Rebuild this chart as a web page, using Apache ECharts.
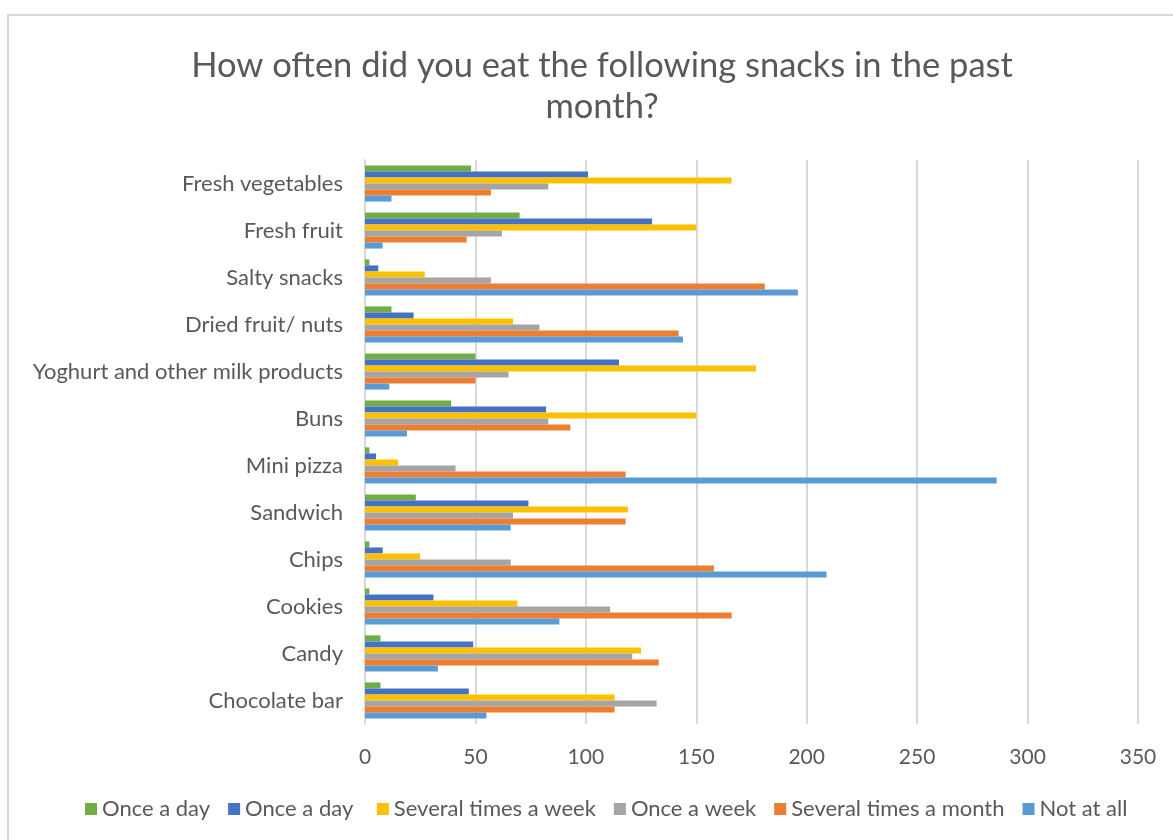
<!DOCTYPE html>
<html>
<head>
<meta charset="utf-8">
<title>Snack frequency</title>
<script src="https://cdn.jsdelivr.net/npm/echarts@6/dist/echarts.min.js"></script>
<style>
  html, body { margin: 0; padding: 0; background: #ffffff; }
  #chart { width: 1173px; height: 840px; }
</style>
</head>
<body>
<div id="chart"></div>
<script>
// Snack categories, listed top to bottom
const categories = [
  'Fresh vegetables', 'Fresh fruit', 'Salty snacks', 'Dried fruit/ nuts',
  'Yoghurt and other milk products', 'Buns', 'Mini pizza', 'Sandwich',
  'Chips', 'Cookies', 'Candy', 'Chocolate bar'
];

// Series names in legend order
const seriesNames = [
  'Once a day', 'Once a day ', 'Several times a week',
  'Once a week', 'Several times a month', 'Not at all'
];
const seriesColors = ['#70AD47', '#4472C4', '#FFC000', '#A5A5A5', '#ED7D31', '#5B9BD5'];

// Responses per category (same order as categories)
const onceADayA          = [48, 70, 2, 12, 50, 39, 2, 23, 2, 2, 7, 7];
const onceADayB          = [101, 130, 6, 22, 115, 82, 5, 74, 8, 31, 49, 47];
const severalTimesWeek   = [166, 150, 27, 67, 177, 150, 15, 119, 25, 69, 125, 113];
const onceAWeek          = [83, 62, 57, 79, 65, 83, 41, 67, 66, 111, 121, 132];
const severalTimesMonth  = [57, 46, 181, 142, 50, 93, 118, 118, 158, 166, 133, 113];
const notAtAll           = [12, 8, 196, 144, 11, 19, 286, 66, 209, 88, 33, 55];

const valueTicks = { min: 0, max: 350, interval: 50 };

const seriesData = [onceADayA, onceADayB, severalTimesWeek, onceAWeek, severalTimesMonth, notAtAll];

const FONT = 'Lato, "Liberation Sans", sans-serif';
const TEXT = '#595959';
const GRID = '#d9d9d9';

const chart = echarts.init(document.getElementById('chart'), null, { renderer: 'canvas' });

chart.setOption({
  backgroundColor: '#ffffff',
  animation: false,
  title: {
    text: 'How often did you eat the following snacks in the past\nmonth?',
    left: 597,
    textAlign: 'center',
    top: 40,
    textStyle: {
      fontFamily: FONT,
      fontSize: 34.5,
      fontWeight: 'normal',
      color: TEXT,
      lineHeight: 41
    }
  },
  graphic: [{
    type: 'polyline',
    shape: { points: [[8, 900], [8, 15], [1300, 15]] },
    style: { stroke: GRID, lineWidth: 2, fill: null },
    silent: true
  }],
  legend: {
    data: seriesNames,
    bottom: 15,
    left: 80,
    icon: 'rect',
    itemWidth: 12,
    itemHeight: 12,
    itemGap: 18,
    textStyle: { fontFamily: FONT, fontSize: 22, color: TEXT }
  },
  grid: { left: 365, right: 35, top: 160, bottom: 116, containLabel: false },
  xAxis: {
    type: 'value',
    min: valueTicks.min,
    max: valueTicks.max,
    interval: valueTicks.interval,
    axisLine: { show: false },
    axisTick: { show: false },
    axisLabel: { fontFamily: FONT, fontSize: 21, color: TEXT, margin: 23 },
    splitLine: { show: true, lineStyle: { color: GRID, width: 2 } }
  },
  yAxis: {
    type: 'category',
    data: categories,
    inverse: true,
    axisLine: { show: true, lineStyle: { color: GRID, width: 2 } },
    axisTick: { show: false },
    axisLabel: { fontFamily: FONT, fontSize: 22, color: TEXT, margin: 22 }
  },
  series: seriesNames.map((name, i) => ({
    name: name,
    type: 'bar',
    data: seriesData[i],
    barGap: '0%',
    barCategoryGap: '23%',
    itemStyle: { color: seriesColors[i] }
  }))
});
</script>
</body>
</html>
